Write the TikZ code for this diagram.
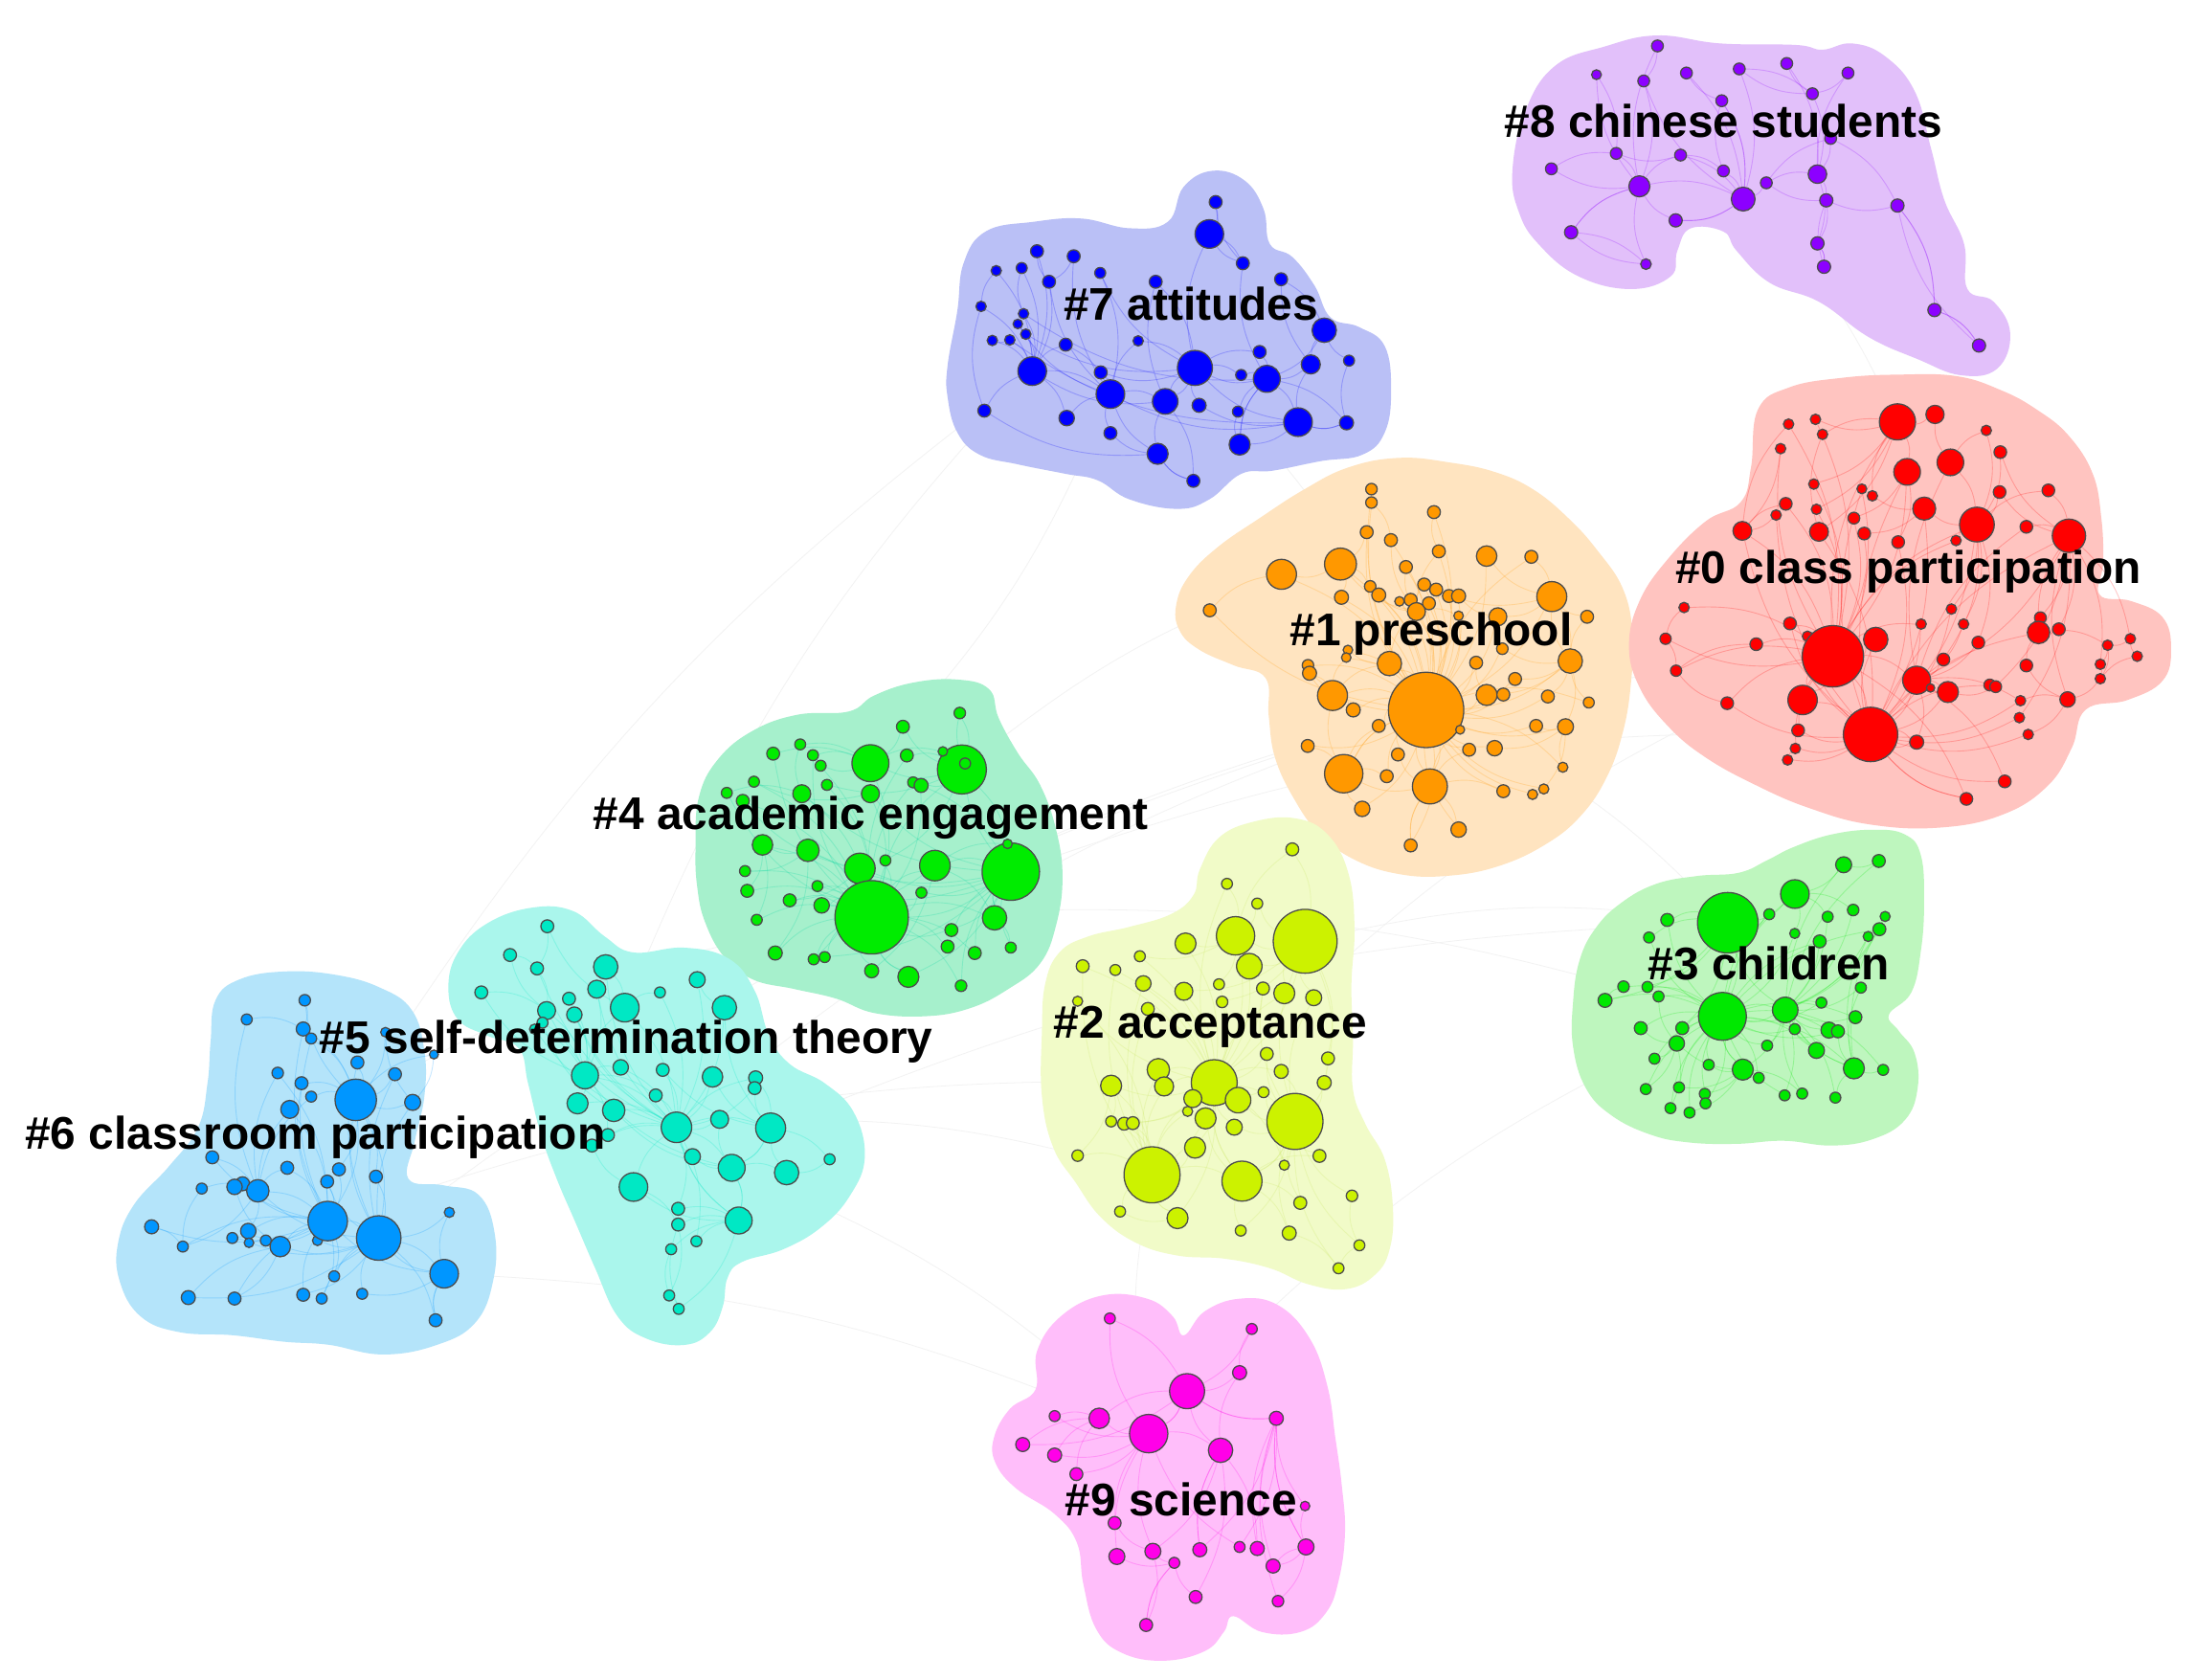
\documentclass[tikz,border=0pt]{standalone}
\usepackage{fontspec}
\setmainfont{Liberation Sans}
\pgfdeclarelayer{faint}
\pgfdeclarelayer{blobs}
\pgfdeclarelayer{links}
\pgfsetlayers{faint,blobs,links,main}

% cluster colours: bg = hull, fg = keyword nodes
\definecolor{bg0}{RGB}{255,196,192} \definecolor{fg0}{RGB}{255,0,0}
\definecolor{bg1}{RGB}{255,228,192} \definecolor{fg1}{RGB}{255,152,0}
\definecolor{bg2}{RGB}{241,251,200} \definecolor{fg2}{RGB}{204,242,0}
\definecolor{bg3}{RGB}{190,246,190} \definecolor{fg3}{RGB}{0,232,0}
\definecolor{bg4}{RGB}{166,240,204} \definecolor{fg4}{RGB}{0,236,0}
\definecolor{bg5}{RGB}{170,246,236} \definecolor{fg5}{RGB}{0,232,196}
\definecolor{bg6}{RGB}{180,228,250} \definecolor{fg6}{RGB}{0,150,255}
\definecolor{bg7}{RGB}{186,192,246} \definecolor{fg7}{RGB}{0,0,255}
\definecolor{bg8}{RGB}{226,192,250} \definecolor{fg8}{RGB}{140,0,255}
\definecolor{bg9}{RGB}{255,190,250} \definecolor{fg9}{RGB}{255,0,232}
\definecolor{ln4}{RGB}{0,214,160}
\definecolor{ln2}{RGB}{200,230,90}

\tikzset{
  kwdot/.style={circle,draw=black!70,line width=0.5pt,inner sep=0pt},
  kwlink/.style={draw=#1,opacity=0.22,line width=0.35pt},
  hull/.style={fill=#1},
  lab/.style={font=\fontsize{18.6}{20}\selectfont\bfseries,anchor=base,inner sep=0pt},
  farlink/.style={draw=black!5,line width=0.3pt}
}

% #1 cluster id, #2 list nn/x/y/r/pa/pb, #3 node colour, #4 link colour
\newcommand\drawcluster[4]{%
  \foreach \nn/\xx/\yy/\rad/\pa/\pb in #2
    \node[kwdot,fill=#3,minimum size=\rad*0.04cm] (k#1-\nn) at (\xx,\yy) {};
  \begin{pgfonlayer}{links}
    \foreach \nn/\xx/\yy/\rad/\pa/\pb in #2 {
      \draw[kwlink=#4] (k#1-\nn) to[bend left=18] (k#1-\pa);
      \draw[kwlink=#4] (k#1-\nn) to[bend right=18] (k#1-\pb);
    }
  \end{pgfonlayer}
}

\def\cleight{1/1182.9/32.8/4.2/3/14, 2/1139.4/53.3/3.5/11/14, 3/1173.1/57.8/4.2/14/17,
  4/1203.6/52.1/4.2/17/9, 5/1241.3/49.2/4.2/17/8, 6/1275.2/45.3/4.2/18/8,
  7/1318.9/52.1/4.2/8/18, 8/1293.5/66.9/4.2/18/5, 9/1228.8/71.9/4.2/17/15,
  10/1306.5/98.8/4.2/18/16, 11/1153.5/109.5/4.2/14/12, 12/1199.4/110.7/4.2/17/14,
  13/1107.2/120.5/4.2/11/14, 14/1170.0/133.0/7.5/17/22, 15/1230.0/122.0/4.2/17/12,
  16/1260.6/130.5/4.2/17/19, 17/1244.1/142.1/8.5/21/9, 18/1297.1/124.3/6.6/19/16,
  19/1303.4/143.0/4.7/23/20, 20/1354.2/146.7/4.7/26/10, 21/1195.9/157.3/4.7/14/17,
  22/1121.3/165.8/4.7/14/24, 23/1297.1/173.7/4.7/25/18, 24/1174.7/188.5/3.8/14/22,
  25/1301.8/190.4/4.7/19/23, 26/1380.6/221.3/4.7/27/20, 27/1412.4/246.6/4.7/20/26}

\def\clseven{1/867.6/144.2/4.6/2/3, 2/863.1/167.0/10.2/3/25, 3/887.0/187.9/4.6/2/27,
  4/914.3/199.3/4.6/20/22, 5/740.1/179.3/4.6/24/9, 6/766.3/182.9/4.6/9/29,
  7/711.0/193.2/3.7/24/12, 8/729.2/191.3/3.9/24/13, 9/748.7/201.1/4.6/24/29,
  10/785.2/194.8/3.9/29/25, 11/824.8/201.1/4.6/25/30, 12/700.2/218.7/3.7/24/33,
  13/730.5/223.9/3.7/24/27, 14/726.4/231.2/3.4/24/29, 15/732.1/238.5/3.7/24/25,
  16/708.2/243.0/3.7/24/17, 17/720.7/242.6/3.7/24/35, 18/760.6/246.0/4.6/29/24,
  19/812.3/243.3/3.7/25/29, 20/945.1/235.7/8.7/27/22, 21/899.0/251.2/4.6/27/25,
  22/935.5/260.1/6.8/27/35, 23/962.8/257.4/3.9/20/36, 24/736.7/264.9/10.2/29/30,
  25/852.8/262.6/12.5/30/27, 26/885.8/267.6/3.9/27/25, 27/904.1/270.4/9.6/35/38,
  28/785.6/265.8/4.6/29/25, 29/792.5/281.3/10.2/30/35, 30/831.6/286.5/9.1/25/39,
  31/855.8/289.3/5.0/25/35, 32/883.5/293.8/3.9/27/38, 33/702.5/293.1/4.6/24/39,
  34/761.3/298.4/5.5/29/24, 35/926.4/301.3/10.2/25/36, 36/961.0/301.8/5.0/35/27,
  37/792.5/309.1/4.6/29/39, 38/884.7/317.3/7.5/27/35, 39/826.2/323.9/7.5/29/40,
  40/851.7/343.2/4.6/39/30}

\def\clzero{1/1354.2/301.1/12.9/9/41, 2/1381.0/295.8/6.5/1/10, 3/1276.5/302.7/3.7/41/21,
  4/1295.7/299.3/3.7/41/1, 5/1300.7/310.0/3.7/1/22, 6/1270.8/320.2/3.7/21/41,
  7/1417.6/307.2/3.7/25/10, 8/1427.6/322.7/4.5/25/27, 9/1361.1/336.8/9.5/41/60,
  10/1392.0/330.0/9.5/25/51, 11/1294.5/345.5/3.7/41/1, 12/1328.8/348.9/3.5/41/60,
  13/1336.3/353.9/3.7/1/19, 14/1427.1/351.2/4.5/25/27, 15/1461.9/350.0/4.5/27/25,
  16/1274.5/359.6/4.5/41/21, 17/1267.6/367.6/3.7/21/60, 18/1296.4/363.5/3.7/41/1,
  19/1373.3/363.0/8.2/60/25, 20/1323.1/369.8/4.2/41/9, 21/1243.5/378.9/6.7/41/60,
  22/1298.2/379.6/6.7/60/1, 23/1330.5/380.8/4.5/41/19, 24/1354.7/386.9/4.5/60/9,
  25/1410.9/374.4/12.4/60/41, 26/1446.2/376.0/4.5/27/51, 27/1476.6/382.4/11.9/51/60,
  28/1396.0/385.8/3.7/25/41, 29/1201.9/433.6/3.7/41/32, 30/1392.7/434.7/3.7/60/25,
  31/1456.2/440.9/4.2/38/27, 32/1188.7/455.9/4.0/43/41, 33/1277.5/445.0/4.5/41/60,
  34/1253.4/459.8/4.5/41/43, 35/1371.1/445.4/3.7/60/41, 36/1401.4/445.4/3.7/51/25,
  37/1338.7/456.4/8.7/41/60, 38/1454.9/451.4/8.0/27/60, 39/1469.4/449.1/4.5/38/27,
  40/1290.0/454.1/3.7/41/60, 41/1308.1/468.4/21.9/60/57, 42/1411.9/458.6/4.5/51/25,
  43/1196.2/478.7/4.0/41/56, 44/1387.0/470.7/4.5/51/25, 45/1446.2/475.0/4.5/38/58,
  46/1520.4/455.9/3.7/47/27, 47/1504.2/460.5/3.7/49/38, 48/1525.3/468.4/3.7/46/50,
  49/1499.0/474.1/3.7/50/27, 50/1499.0/484.4/3.7/58/47, 51/1367.9/485.5/10.0/60/41,
  52/1377.8/491.0/3.0/51/53, 53/1390.2/493.9/7.5/60/51, 54/1420.1/488.9/4.2/55/60,
  55/1424.3/490.1/4.2/53/27, 56/1232.7/501.9/4.5/41/60, 57/1286.5/499.6/10.5/60/41,
  58/1475.6/499.2/5.5/27/59, 59/1442.0/500.1/3.7/60/51, 60/1335.0/524.2/19.4/64/68,
  61/1283.3/521.3/4.5/41/60, 62/1441.2/512.2/3.7/60/27, 63/1447.5/524.2/3.7/60/58,
  64/1367.9/529.7/5.0/60/51, 65/1281.3/534.2/3.7/41/60, 66/1275.8/542.4/3.7/65/60,
  67/1430.8/557.7/4.5/60/51, 68/1403.4/570.2/4.5/60/41}

\def\clone{1/978.8/349.1/4.1/2/39, 2/978.8/358.7/4.1/5/39, 3/1023.4/365.5/4.6/39/6,
  4/975.4/379.8/4.6/9/39, 5/992.7/385.5/4.6/39/22, 6/1026.9/393.5/4.6/39/22,
  7/1061.0/396.9/7.3/39/23, 8/1092.9/397.4/4.6/23/39, 9/956.7/402.6/11.4/39/22,
  10/914.6/409.9/10.7/39/9, 11/1003.4/404.7/4.6/39/22, 12/977.9/418.5/4.1/39/9,
  13/984.0/424.7/5.0/39/22, 14/1016.4/417.2/4.6/39/22, 15/1025.0/420.8/4.6/39/23,
  16/1034.1/425.4/4.6/39/22, 17/1041.0/425.4/5.0/39/25, 18/957.4/426.3/5.0/39/9,
  19/998.8/429.2/3.4/39/22, 20/1006.8/428.1/4.6/39/22, 21/1019.8/430.6/4.6/39/22,
  22/1010.9/436.5/6.4/39/31, 23/1107.5/425.8/10.7/39/33, 24/863.4/435.6/4.6/10/39,
  25/1069.0/440.2/6.4/39/23, 26/1132.7/440.2/4.6/23/33, 27/1041.0/439.5/3.4/39/22,
  28/1072.2/463.0/4.1/39/33, 29/962.0/463.9/3.4/39/31, 30/960.8/469.3/3.4/39/37,
  31/991.6/473.6/8.7/39/37, 32/1053.5/473.0/4.6/39/40, 33/1120.7/471.8/8.7/39/23,
  34/933.5/474.8/4.1/39/37, 35/934.6/480.5/5.0/37/39, 36/1081.3/484.6/4.6/39/33,
  37/951.0/496.4/10.7/39/52, 38/965.8/506.7/5.0/39/37, 39/1017.8/506.7/26.9/54/52,
  40/1061.0/496.0/7.5/39/33, 41/1072.9/495.7/4.6/39/40, 42/1104.7/497.1/4.6/39/33,
  43/1133.9/501.4/3.9/33/39, 44/984.0/518.1/4.6/39/52, 45/1096.3/518.1/4.6/39/46,
  46/1117.3/518.7/5.7/39/33, 47/1042.1/520.8/3.2/39/54, 48/933.3/532.4/4.6/52/39,
  49/997.7/538.5/4.6/39/54, 50/1048.5/535.1/4.6/39/54, 51/1066.7/534.0/5.5/39/46,
  52/959.0/552.2/13.7/39/54, 53/989.7/554.0/4.6/39/52, 54/1020.5/561.3/12.5/39/61,
  55/1115.4/547.6/3.6/46/39, 56/1072.9/564.7/4.6/39/54, 57/1093.8/567.0/3.6/39/58,
  58/1101.8/563.1/3.6/39/46, 59/972.2/577.3/5.5/52/39, 60/1041.0/592.1/5.5/39/54,
  61/1006.8/603.4/4.6/54/39}

\def\clfour{1/685.0/508.9/4.1/9/10, 2/644.4/518.7/4.6/7/9, 3/551.8/537.9/4.6/7/32,
  4/571.1/531.3/3.9/7/15, 5/580.2/539.0/3.9/7/32, 6/585.7/546.5/3.9/32/7,
  7/621.2/544.7/13.2/32/9, 8/647.2/539.2/4.6/9/32, 9/686.5/549.2/17.5/25/32,
  10/688.8/544.9/3.9/9/25, 11/672.9/536.3/3.4/9/7, 12/538.1/557.9/3.9/32/17,
  13/518.7/565.9/3.9/15/32, 14/530.1/571.6/4.6/32/22, 15/572.2/566.5/6.4/32/25,
  16/590.2/560.2/3.9/32/9, 17/621.2/566.5/6.4/32/25, 18/651.7/558.4/3.9/25/32,
  19/657.4/560.6/5.0/32/9, 20/544.2/603.0/7.3/32/21, 21/576.6/606.9/8.0/32/25,
  22/613.7/619.8/10.9/32/25, 23/631.9/614.1/3.9/32/9, 24/667.2/617.8/10.9/25/32,
  25/721.4/622.1/20.5/32/35, 26/719.1/602.3/3.4/25/24, 27/531.7/621.7/3.9/32/21,
  28/533.3/635.8/4.6/32/20, 29/563.6/642.6/4.6/32/22, 30/583.4/632.4/3.9/32/25,
  31/586.4/646.2/5.5/32/24, 32/622.1/654.7/26.2/35/44, 33/657.6/637.1/3.9/32/25,
  34/540.1/656.5/3.9/32/20, 35/709.8/655.1/8.7/25/24, 36/679.0/663.8/4.6/32/25,
  37/676.3/675.6/4.6/25/32, 38/695.7/680.2/4.6/25/32, 39/721.4/676.3/3.9/25/35,
  40/553.3/680.2/5.0/32/21, 41/580.7/684.7/3.9/32/22, 42/588.6/683.1/3.9/32/25,
  43/622.1/692.9/5.0/32/24, 44/648.3/697.2/7.5/32/25, 45/685.9/703.6/4.1/25/32}

\def\clthree{1/1315.8/617.2/5.7/3/20, 2/1340.9/614.5/4.6/1/20, 3/1281.0/638.1/10.2/4/19,
  4/1233.1/658.6/21.6/19/20, 5/1262.7/652.5/3.9/4/19, 6/1304.4/654.3/3.9/20/3,
  7/1322.6/649.5/4.1/20/3, 8/1345.4/654.1/3.6/20/36, 9/1341.3/663.2/4.6/20/19,
  10/1333.3/668.4/3.6/20/36, 11/1280.9/666.2/3.6/19/3, 12/1298.7/671.9/4.6/20/19,
  13/1189.9/656.6/4.6/4/19, 14/1176.9/669.1/3.9/4/19, 15/1158.7/704.2/4.1/19/18,
  16/1175.8/704.4/3.9/19/4, 17/1183.7/711.2/3.9/19/29, 18/1145.5/714.0/5.0/19/4,
  19/1229.3/725.4/17.1/20/34, 20/1274.1/720.8/9.1/19/36, 21/1299.9/715.6/3.9/19/20,
  22/1328.1/704.9/3.9/20/36, 23/1324.2/726.0/4.6/20/19, 24/1280.9/734.5/3.9/19/20,
  25/1305.3/735.2/5.7/20/19, 26/1311.7/736.1/4.6/19/36, 27/1171.0/733.8/4.6/19/29,
  28/1200.6/733.8/4.6/19/4, 29/1196.7/744.7/5.5/19/34, 30/1261.2/746.3/3.9/19/20,
  31/1296.4/749.7/5.7/20/19, 32/1180.8/755.6/3.9/19/29, 33/1219.5/760.0/3.9/19/34,
  34/1243.8/763.4/7.5/19/20, 35/1255.2/769.3/3.9/34/19, 36/1323.1/762.5/7.5/20/19,
  37/1344.0/763.6/3.9/36/20, 38/1174.6/777.3/3.9/19/29, 39/1198.3/776.1/3.9/19/34,
  40/1216.7/780.7/3.9/19/34, 41/1217.2/787.5/3.9/40/19, 42/1192.2/790.9/3.9/19/29,
  43/1205.8/794.1/3.9/19/34, 44/1273.7/781.8/3.9/19/20, 45/1286.2/780.5/3.9/20/34,
  46/1309.9/783.4/3.9/36/20}

\def\cltwo{1/922.3/606.2/4.6/5/4, 2/875.7/630.8/3.9/4/26, 3/897.3/644.9/3.9/4/5,
  4/881.8/667.9/13.7/26/5, 5/931.5/671.8/22.8/26/37, 6/846.1/673.4/7.5/26/4,
  7/891.6/689.6/9.1/26/5, 8/772.7/689.6/4.6/26/42, 9/796.0/692.3/3.9/26/42,
  10/813.5/682.5/3.9/26/4, 11/816.0/701.9/5.5/26/42, 12/844.9/707.5/6.4/26/5,
  13/870.0/702.5/3.9/26/4, 14/872.2/715.1/4.1/26/5, 15/901.4/705.5/4.6/26/37,
  16/916.6/708.9/7.5/5/26, 17/937.6/712.1/5.7/5/37, 18/769.1/714.6/3.6/42/26,
  19/819.2/720.1/4.6/26/42, 20/904.1/752.2/4.6/26/37, 21/947.8/755.4/4.6/37/5,
  22/826.7/763.5/8.0/26/42, 23/914.4/764.7/5.0/37/26, 24/793.0/774.9/7.5/42/26,
  25/830.8/775.4/6.8/26/42, 26/866.6/772.7/16.4/42/43, 27/945.1/772.7/5.0/37/5,
  28/883.6/785.2/9.1/26/37, 29/851.3/784.1/6.4/26/42, 30/901.8/779.5/3.9/26/37,
  31/847.6/793.2/3.6/26/42, 32/860.4/798.2/7.5/26/43, 33/793.0/800.4/3.9/42/24,
  34/802.3/802.0/4.6/42/26, 35/808.5/801.6/4.6/42/26, 36/880.9/804.5/5.7/26/37,
  37/924.2/800.4/20.0/43/26, 38/852.9/819.1/7.5/42/26, 39/769.1/824.8/4.1/42/24,
  40/941.7/825.0/4.6/37/43, 41/916.6/831.6/3.6/37/26, 42/822.2/838.5/20.0/43/47,
  43/886.4/843.0/14.3/26/37, 44/964.9/853.5/4.1/37/50, 45/928.0/858.5/4.6/37/43,
  46/799.4/864.7/3.9/42/47, 47/840.4/869.4/7.5/42/26, 48/885.5/878.3/3.9/43/37,
  49/920.1/880.1/5.0/37/43, 50/970.2/888.8/3.9/37/51, 51/955.3/905.2/3.9/37/49}

\def\clfive{1/390.6/661.1/4.6/3/10, 2/364.0/681.6/4.6/3/12, 3/383.3/691.2/4.6/12/25,
  4/343.5/708.3/4.6/12/16, 5/432.3/690.1/8.7/10/25, 6/425.9/706.0/6.4/16/25,
  7/497.6/699.2/5.7/25/11, 8/471.0/708.3/3.9/25/10, 9/406.1/712.8/4.6/16/25,
  10/445.9/719.2/10.2/25/16, 11/517.0/719.2/8.7/25/27, 12/390.1/721.3/6.4/16/25,
  13/409.9/724.2/5.5/16/25, 14/387.2/729.9/3.9/16/24, 15/381.5/734.5/3.6/16/25,
  16/417.5/767.5/9.6/25/31, 17/443.0/761.8/5.5/25/16, 18/473.0/763.6/4.6/25/27,
  19/508.5/768.6/7.3/25/27, 20/539.3/769.3/5.0/27/25, 21/538.6/776.6/4.6/25/27,
  22/468.0/781.8/4.6/25/16, 23/412.2/787.5/7.5/25/16, 24/438.0/792.5/8.0/25/31,
  25/482.8/804.6/10.9/31/37, 26/513.6/798.9/6.4/25/31, 27/550.0/805.1/10.7/31/25,
  28/433.9/810.1/4.6/25/16, 29/422.5/817.6/4.6/25/34, 30/494.2/825.5/5.7/25/31,
  31/522.2/833.5/9.6/37/27, 32/561.4/836.9/8.7/27/31, 33/592.1/827.4/3.9/32/27,
  34/452.1/847.2/10.2/25/37, 35/484.0/862.7/4.6/37/25, 36/484.0/874.0/4.6/37/34,
  37/527.2/871.1/9.6/25/31, 38/497.0/885.9/3.9/37/25, 39/479.0/891.6/3.9/37/40,
  40/477.6/924.6/3.9/41/36, 41/484.4/934.2/3.9/36/37}

\def\clsix{1/217.5/713.9/4.1/3/11, 2/176.1/727.6/3.9/3/23, 3/216.4/734.4/5.0/11/32,
  4/222.1/741.2/3.9/11/32, 5/275.1/736.7/3.4/11/13, 6/255.1/758.3/4.6/11/33,
  7/309.7/752.6/3.2/13/11, 8/198.2/765.8/4.1/32/23, 9/215.2/773.1/4.6/11/32,
  10/222.1/782.7/3.9/11/23, 11/253.9/785.0/14.8/32/33, 12/281.9/766.7/4.6/11/33,
  13/294.5/786.8/5.7/11/33, 14/206.8/791.8/6.4/32/23, 15/151.5/826.0/4.6/23/32,
  16/205.0/833.5/4.6/32/23, 17/241.9/834.6/4.6/32/11, 18/233.5/843.3/4.6/32/33,
  19/268.3/839.8/4.6/33/11, 20/144.0/848.3/3.9/23/25, 21/173.1/844.9/5.0/23/32,
  22/167.4/847.1/5.5/23/30, 23/184.0/849.9/8.0/32/33, 24/108.2/875.6/5.0/25/32,
  25/130.5/889.7/3.9/32/23, 26/177.2/878.6/5.5/32/23, 27/165.8/883.6/3.9/30/32,
  28/177.7/887.0/3.4/30/33, 29/189.7/885.4/3.9/30/32, 30/200.0/889.7/7.3/32/33,
  31/226.6/885.4/3.6/32/33, 32/233.9/871.5/14.1/33/36, 33/270.3/883.6/15.9/36/11,
  34/320.7/865.3/3.6/33/36, 35/238.5/910.9/3.9/33/32, 36/317.0/909.1/10.2/33/42,
  37/134.4/926.1/5.0/30/33, 38/167.4/926.8/4.6/32/30, 39/216.4/924.1/4.6/32/33,
  40/229.6/926.8/3.9/33/32, 41/258.5/923.4/3.9/33/36, 42/310.9/942.3/4.6/36/33}

\def\clnine{1/792.1/941.0/3.9/4/7, 2/893.4/948.5/3.9/4/3, 3/884.7/979.7/5.0/4/9,
  4/847.2/992.9/12.5/7/8, 5/752.7/1010.7/3.9/6/7, 6/784.5/1012.3/7.3/4/7,
  7/819.8/1023.2/13.7/9/4, 8/910.9/1012.3/5.0/4/20, 9/871.1/1035.1/8.7/4/17,
  10/729.9/1031.0/5.0/6/4, 11/752.7/1038.5/5.0/6/7, 12/768.2/1052.1/4.6/6/7,
  13/931.4/1074.9/3.4/8/20, 14/795.5/1087.0/4.6/7/16, 15/797.1/1110.9/5.7/7/21,
  16/822.8/1107.2/5.7/7/9, 17/856.3/1106.1/5.0/9/8, 18/884.7/1104.1/3.9/7/8,
  19/897.3/1105.2/5.0/8/9, 20/932.1/1104.1/5.7/8/22, 21/838.1/1115.4/3.9/16/25,
  22/908.6/1117.7/5.0/8/20, 23/853.3/1139.8/4.6/21/9, 24/912.1/1142.8/4.1/8/20,
  25/818.0/1159.8/4.6/21/16}

\begin{document}
\begin{tikzpicture}[x=0.02cm,y=-0.02cm]
  \useasboundingbox (0,0) rectangle (1568,1199);
  \begin{pgfonlayer}{faint}
    \fill[white] (0,0) rectangle (1568,1199);
  \end{pgfonlayer}

  % cluster hulls
  \begin{pgfonlayer}{blobs}
    \fill[hull=bg8] plot[smooth cycle,tension=0.7] coordinates {(1079.4,122.0) (1088.8,78.8) (1110.0,46.9) (1145.3,33.2) (1182.9,25.3) (1227.6,31.0) (1281.8,32.1) (1300.6,35.5) (1321.8,31.0) (1345.3,40.1) (1366.5,65.1) (1378.2,106.1) (1387.6,142.6) (1401.8,174.4) (1404.1,206.3) (1422.9,215.4) (1434.7,238.2) (1425.3,263.2) (1399.4,267.8) (1368.8,256.4) (1333.5,240.5) (1298.2,215.4) (1263.0,201.8) (1239.4,179.0) (1230.0,165.3) (1206.5,163.0) (1197.1,179.0) (1192.4,197.2) (1164.1,206.3) (1126.5,197.2) (1098.2,174.4) (1084.1,151.6)};
    \fill[hull=bg1] plot[smooth cycle,tension=0.7] coordinates {(839.5,431.5) (848.6,411.0) (869.1,390.5) (898.7,370.0) (930.5,349.5) (962.4,333.6) (998.8,326.8) (1035.3,330.2) (1067.2,337.0) (1094.5,349.5) (1119.5,370.0) (1140.0,392.8) (1158.2,420.1) (1165.1,452.0) (1163.9,488.4) (1158.2,522.6) (1146.8,554.5) (1128.6,581.8) (1103.6,602.3) (1069.4,618.2) (1033.0,625.1) (998.8,623.9) (967.0,613.7) (941.9,595.5) (923.7,570.4) (910.0,540.8) (905.5,511.2) (903.2,483.9) (880.4,474.8) (855.4,463.4) (841.7,449.7)};
    \fill[hull=bg7] plot[smooth cycle,tension=0.7] coordinates {(676.3,260.8) (683.2,222.1) (687.7,187.9) (703.7,165.1) (737.8,158.3) (772.0,156.0) (806.1,162.9) (833.5,158.3) (844.8,133.3) (865.3,121.9) (888.1,128.7) (901.8,149.2) (906.3,174.2) (922.3,183.4) (938.2,203.9) (949.6,226.6) (970.1,233.5) (988.3,247.1) (992.8,279.0) (988.3,308.6) (972.4,324.5) (942.7,329.1) (908.6,335.9) (885.8,338.2) (863.1,356.4) (840.3,363.2) (806.1,356.4) (783.4,342.8) (760.6,338.2) (726.4,331.4) (699.1,324.5) (683.2,308.6) (676.3,283.5)};
    \fill[hull=bg0] plot[smooth cycle,tension=0.7] coordinates {(1254.6,292.4) (1277.0,276.5) (1314.4,269.7) (1354.2,267.4) (1396.5,268.5) (1428.8,278.8) (1453.7,292.4) (1476.1,310.6) (1493.5,338.0) (1499.7,369.8) (1501.0,401.7) (1498.5,424.5) (1520.9,429.0) (1543.3,440.4) (1549.5,463.2) (1543.3,486.0) (1518.4,499.6) (1488.5,506.5) (1478.6,533.8) (1461.2,561.1) (1428.8,581.6) (1384.0,590.7) (1334.3,588.4) (1292.0,577.0) (1254.6,561.1) (1217.3,540.6) (1190.0,517.8) (1170.1,490.5) (1162.6,460.9) (1170.1,429.0) (1190.0,399.4) (1217.3,372.1) (1242.2,358.5) (1249.7,333.4)};
    \fill[hull=bg4] plot[smooth cycle,tension=0.7] coordinates {(496.4,605.7) (498.7,569.3) (512.4,542.0) (537.4,521.5) (569.3,510.1) (605.7,507.8) (623.9,496.4) (651.3,487.3) (683.1,485.0) (705.9,491.9) (712.7,512.4) (726.4,537.4) (742.3,560.2) (753.7,592.1) (758.3,626.2) (753.7,660.4) (742.3,687.7) (719.6,705.9) (692.2,719.6) (660.4,725.3) (623.9,723.0) (596.6,712.7) (567.0,705.9) (537.4,699.1) (516.9,683.1) (503.2,658.1) (497.6,633.0)};
    \fill[hull=bg3] plot[smooth cycle,tension=0.7] coordinates {(1122.7,715.1) (1127.3,685.5) (1138.6,662.7) (1156.9,644.5) (1181.9,630.9) (1211.5,625.2) (1241.1,622.9) (1261.6,613.8) (1279.8,604.7) (1307.1,595.6) (1336.7,592.2) (1359.5,595.6) (1370.9,610.4) (1373.2,644.5) (1370.9,678.7) (1364.1,708.3) (1348.1,724.2) (1355.0,735.6) (1366.4,751.5) (1368.6,776.6) (1359.5,799.4) (1336.7,813.0) (1307.1,817.6) (1273.0,814.2) (1238.8,816.4) (1204.7,815.3) (1177.4,809.6) (1150.0,796.0) (1131.8,776.6) (1122.7,747.0)};
    \fill[hull=bg2] plot[smooth cycle,tension=0.7] coordinates {(856.3,620.6) (870.0,597.8) (895.0,586.4) (924.6,584.1) (947.4,595.5) (962.2,622.8) (966.7,661.5) (964.5,702.5) (965.6,741.2) (965.6,777.7) (974.7,802.7) (988.4,827.8) (994.1,861.9) (991.8,891.5) (981.5,909.7) (961.0,920.0) (933.7,916.6) (906.4,905.2) (874.5,898.4) (840.4,896.1) (810.8,887.0) (785.7,868.8) (767.5,843.7) (751.6,818.7) (743.6,782.2) (743.6,736.7) (745.9,702.5) (756.1,679.8) (776.6,668.4) (806.2,661.5) (835.8,652.4) (851.8,638.8)};
    \fill[hull=bg5] plot[smooth cycle,tension=0.7] coordinates {(320.0,704.9) (326.8,679.8) (347.3,659.3) (379.2,647.9) (408.8,650.2) (431.6,668.4) (452.1,679.8) (488.5,676.4) (520.4,684.4) (538.6,707.1) (548.8,739.0) (563.7,759.5) (588.7,773.2) (609.2,793.7) (617.2,825.5) (606.9,852.9) (586.4,875.6) (559.1,891.6) (529.5,900.7) (519.2,912.1) (515.8,932.6) (506.7,950.8) (488.5,959.9) (461.2,955.3) (440.7,939.4) (424.8,905.2) (411.1,873.4) (397.4,841.5) (386.0,809.6) (376.9,773.2) (370.1,748.1) (347.3,739.0) (326.8,727.6)};
    \fill[hull=bg6] plot[smooth cycle,tension=0.7] coordinates {(153.8,713.9) (170.8,699.1) (202.7,693.4) (239.1,695.7) (271.0,704.8) (293.8,720.8) (302.9,750.4) (302.9,782.2) (296.1,814.1) (291.5,841.4) (316.6,846.0) (341.6,852.8) (353.0,880.1) (351.9,914.3) (339.3,943.9) (312.0,959.8) (273.3,966.7) (234.6,959.8) (202.7,957.6) (166.3,953.0) (127.6,950.7) (100.2,939.4) (85.4,914.3) (84.3,887.0) (95.7,859.7) (120.7,832.3) (141.2,805.0) (148.1,773.1) (150.3,743.5)};
    \fill[hull=bg9] plot[smooth cycle,tension=0.7] coordinates {(709.4,1026.0) (720.8,1005.5) (739.0,991.8) (740.1,964.5) (757.2,939.4) (786.8,924.6) (818.7,926.9) (836.9,939.4) (844.9,953.1) (859.7,936.0) (884.7,926.9) (912.1,931.5) (934.8,955.4) (947.4,989.5) (953.0,1026.0) (957.6,1060.1) (959.9,1094.3) (955.3,1128.4) (946.2,1151.2) (928.0,1164.8) (900.7,1164.8) (880.2,1153.5) (873.4,1164.8) (859.7,1178.5) (830.1,1185.3) (800.5,1179.6) (782.3,1162.6) (773.2,1130.7) (768.6,1101.1) (752.7,1080.6) (725.3,1062.4) (710.5,1044.2)};
  \end{pgfonlayer}

  % keyword nodes and co-occurrence links
  \drawcluster{8}{\cleight}{fg8}{fg8}
  \drawcluster{7}{\clseven}{fg7}{fg7}
  \drawcluster{0}{\clzero}{fg0}{fg0}
  \drawcluster{1}{\clone}{fg1}{fg1}
  \drawcluster{4}{\clfour}{fg4}{ln4}
  \drawcluster{3}{\clthree}{fg3}{fg3}
  \drawcluster{2}{\cltwo}{fg2}{ln2}
  \drawcluster{5}{\clfive}{fg5}{fg5}
  \drawcluster{6}{\clsix}{fg6}{fg6}
  \drawcluster{9}{\clnine}{fg9}{fg9}

  % faint links between clusters
  \begin{pgfonlayer}{faint}
    \foreach \a/\b in {k6-33/k1-39, k6-11/k4-32, k5-25/k1-39, k5-25/k2-42, k4-32/k0-41,
        k4-25/k0-60, k4-32/k3-19, k5-27/k3-4, k6-32/k2-26, k2-26/k0-41, k2-5/k3-4,
        k7-25/k1-39, k7-29/k4-7, k9-7/k2-42, k9-4/k3-19, k6-36/k9-7, k5-31/k9-7,
        k8-17/k0-1, k1-39/k3-4, k6-11/k7-24, k5-10/k7-24, k4-9/k1-9}
      \draw[farlink] (\a) to[bend left=10] (\b);
  \end{pgfonlayer}

  % cluster labels
  \node[lab] (l8) at (1230,98) {\#8 chinese students};
  \node[lab] (l7) at (850,228.4) {\#7 attitudes};
  \node[lab] (l0) at (1362,416.5) {\#0 class participation};
  \node[lab] (l1) at (1021.4,461.1) {\#1 preschool};
  \node[lab] (l4) at (621.5,592) {\#4 academic engagement};
  \node[lab] (l3) at (1262.5,699.6) {\#3 children};
  \node[lab] (l2) at (863.7,741.2) {\#2 acceptance};
  \node[lab] (l5) at (447,752) {\#5 self-determination theory};
  \node[lab] (l6) at (225,820) {\#6 classroom participation};
  \node[lab] (l9) at (843,1081.7) {\#9 science};
\end{tikzpicture}
\end{document}
